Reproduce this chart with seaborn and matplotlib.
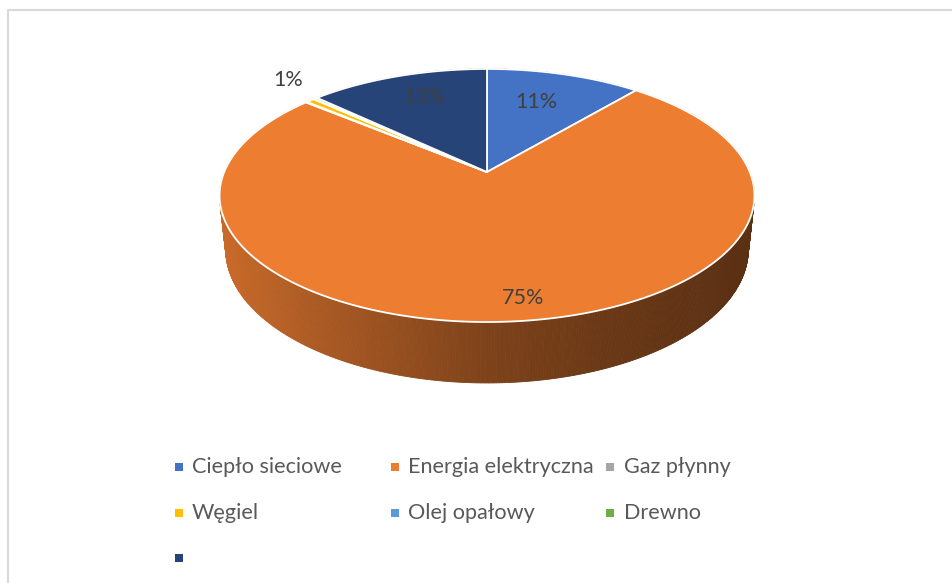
import numpy as np
import matplotlib
matplotlib.use("Agg")
import matplotlib.pyplot as plt
from matplotlib.patches import Polygon
import seaborn as sns

# data
labels = ["Ciepło sieciowe", "Energia elektryczna", "Gaz płynny", "Węgiel",
          "Olej opałowy", "Drewno", ""]
shares = [11.2, 74.8, 0.1, 0.6, 0.05, 0.25, 13.0]
pct_text = ["11%", "75%", "", "1%", "", "", "13%"]
colors = ["#4472C4", "#ED7D31", "#A5A5A5", "#FFC000", "#5B9BD5", "#70AD47", "#264478"]

# 3d pie view (Excel style perspective)
CX, CY = 487, 172
SCALE = 262.8
ALPHA = np.radians(27.7)
DIST = 4.769
DEPTH = 0.234

# label radius and small nudges
lab_r = [0.68, 0.86, 1.0, 1.2, 1.0, 1.0, 0.72]
lab_dx = [-6, 12, 0, 9, 0, 0, 4]
lab_dy = [0, 2, 0, -8, 0, 0, -3]


def project(theta, r=1.0, h=0.0):
    x = r * np.sin(theta)
    z = r * np.cos(theta)
    vy = h * np.cos(ALPHA) + z * np.sin(ALPHA)
    vz = z * np.cos(ALPHA) - h * np.sin(ALPHA)
    f = DIST / (DIST + vz)
    return CX + SCALE * x * f, CY - SCALE * vy * f


sns.set_style("white")
plt.rcParams['font.family'] = ['Lato', 'DejaVu Sans']

fig = plt.figure(figsize=(9.52, 5.83), dpi=100)
ax = fig.add_axes([0, 0, 1, 1])
ax.set_xlim(0, 952)
ax.set_ylim(583, 0)
ax.axis("off")

# chart border
ax.plot([7.5, 7.5, 952], [583, 9.5, 9.5], color="#d9d9d9", lw=1.5)

fracs = np.array(shares) / sum(shares)
edges = np.concatenate([[0], np.cumsum(fracs)]) * 2 * np.pi

# side wall, drawn back to front
segs = []
for i in range(len(shares)):
    n = max(2, int(np.degrees(edges[i + 1] - edges[i]) * 2))
    th = np.linspace(edges[i], edges[i + 1], n)
    for a, b in zip(th[:-1], th[1:]):
        segs.append((np.cos((a + b) / 2), a, b, colors[i]))
segs.sort(key=lambda s: -s[0])
for _, a, b, c in segs:
    t1 = project(a); t2 = project(b)
    b1 = project(a, h=-DEPTH); b2 = project(b, h=-DEPTH)
    xm = (t1[0] + t2[0]) / 2
    k = np.interp(xm, [220, 300, 487, 620, 755], [0.85, 0.74, 0.53, 0.44, 0.38])
    rgb = np.array(matplotlib.colors.to_rgb(c)) * k
    ax.add_patch(Polygon([t1, t2, b2, b1], closed=True, facecolor=rgb,
                         edgecolor=rgb, lw=0.6))

# top face
for i in range(len(shares)):
    n = max(2, int(np.degrees(edges[i + 1] - edges[i]) * 2))
    th = np.linspace(edges[i], edges[i + 1], n)
    pts = [project(0, r=0)] + [project(t) for t in th]
    ax.add_patch(Polygon(pts, closed=True, facecolor=colors[i],
                         edgecolor="white", lw=1.3, joinstyle="round"))

# data labels
for i, txt in enumerate(pct_text):
    if not txt:
        continue
    mid = (edges[i] + edges[i + 1]) / 2
    x, y = project(mid, r=lab_r[i])
    ax.text(x + lab_dx[i], y + lab_dy[i], txt, ha="center", va="center",
            fontsize=15.5, color="#404040")

# legend, Excel row-wise layout
leg_x = [178.5, 394.5, 610]
leg_y = [467, 513, 558]
for i, lab in enumerate(labels):
    row, col = divmod(i, 3)
    x, y = leg_x[col], leg_y[row]
    ax.scatter([x], [y], marker="s", s=32, color=colors[i], linewidths=0)
    ax.text(x + 13.5, y, lab, ha="left", va="center", fontsize=15.6, color="#595959")

fig.savefig("out.png", dpi=100)
